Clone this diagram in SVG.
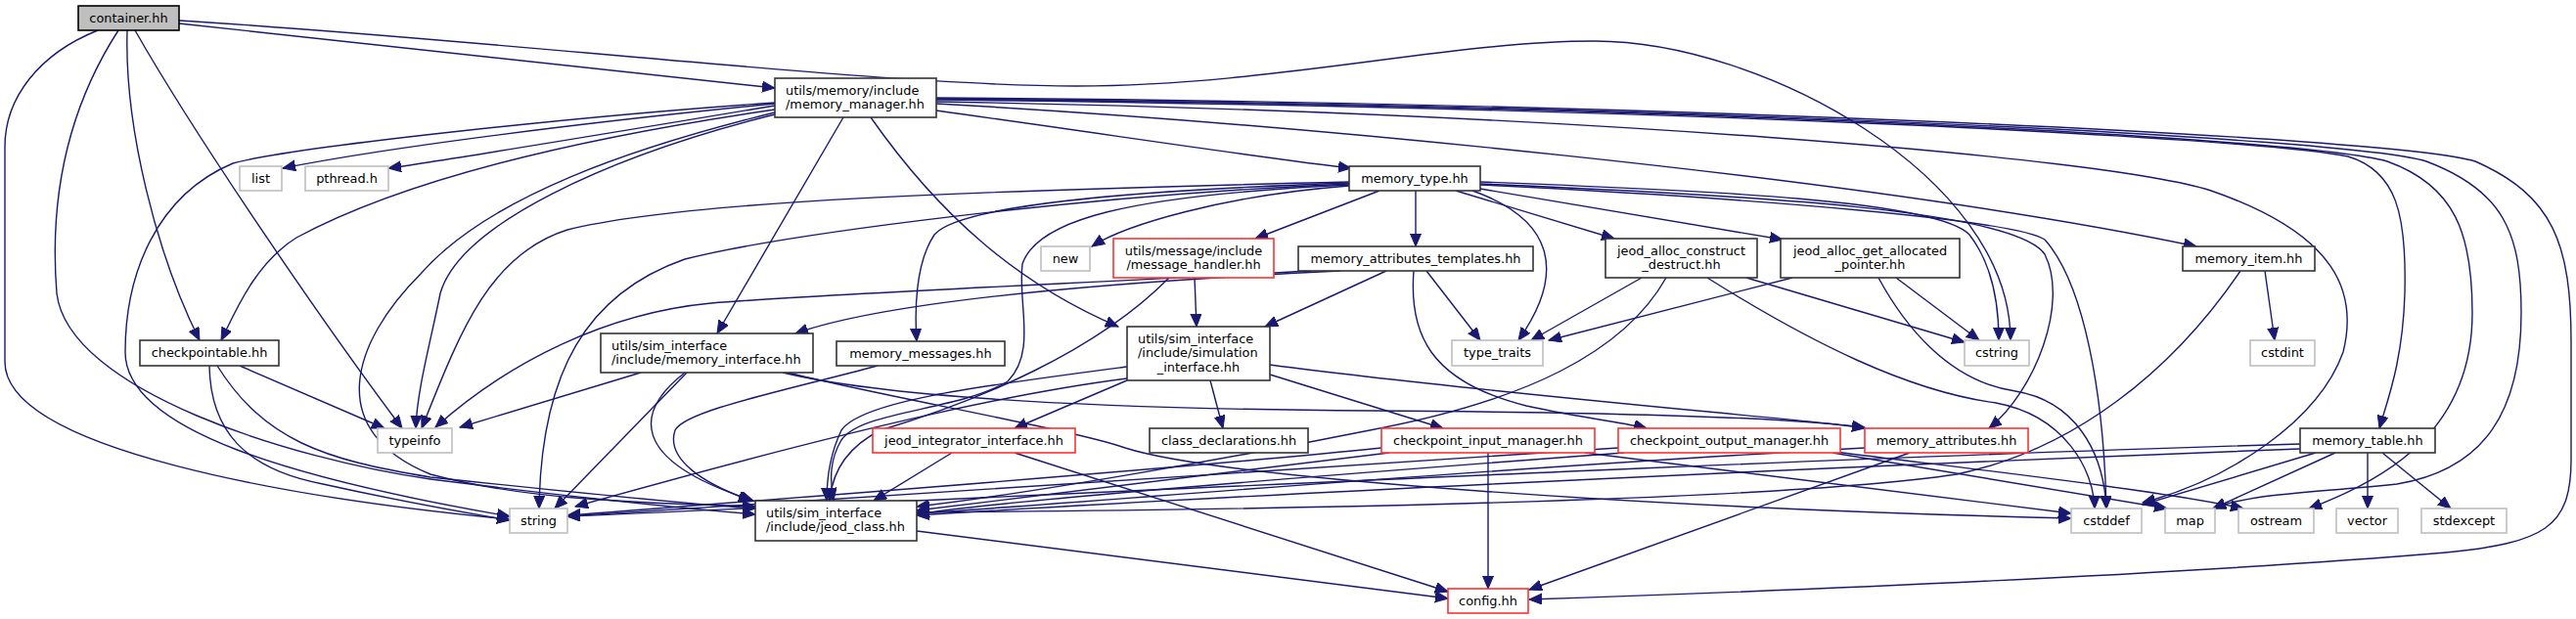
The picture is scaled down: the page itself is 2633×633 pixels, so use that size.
<svg xmlns="http://www.w3.org/2000/svg" width="2633" height="633" viewBox="0 0 2633 633">
<defs>
<marker id="ah" markerUnits="userSpaceOnUse" markerWidth="14" markerHeight="12" refX="13" refY="5.5" orient="auto"><path d="M0,0 L13,5.5 L0,11 z" fill="#191970" stroke="#191970" stroke-width="1"/></marker>
<style>
.e{fill:none;stroke:#191970;stroke-width:1.4;marker-end:url(#ah)}
.n rect{fill:#fff;stroke:#333;stroke-width:1.6}
.g rect{fill:#fff;stroke:#bfbfbf;stroke-width:1.6}
.r rect{fill:#fff;stroke:#ff3030;stroke-width:1.6}
text{font-family:"DejaVu Sans","Liberation Sans",sans-serif;font-size:12.9px;fill:#000}
.c{text-anchor:middle}
</style>
</defs>
<rect width="2633" height="633" fill="#fff"/>
<g id="edges">
<path class="e" d="M183,24 L792,90"/>
<path class="e" d="M183,21 C500,40 900,88 1100,88 C1300,88 1480,42 1630,42 C1800,42 2055,180 2055,348"/>
<path class="e" d="M130,31 C127,130 160,260 204,348"/>
<path class="e" d="M138,31 C200,140 330,330 411,438"/>
<path class="e" d="M100,31 C40,55 5,100 5,150 L5,370 C5,460 300,510 521,531"/>
<path class="e" d="M121,31 C70,110 50,200 58,300 C70,400 300,470 440,490 C600,510 700,520 772,526"/>
<path class="e" d="M792,106 C600,125 400,150 289,172"/>
<path class="e" d="M792,108 C600,140 450,165 397,172"/>
<path class="e" d="M792,112 C600,140 420,180 303,243 C260,270 240,320 226,348"/>
<path class="e" d="M792,105 C600,118 300,150 238,167 C160,200 128,280 128,360 C128,440 300,490 521,528"/>
<path class="e" d="M792,115 C650,150 500,200 430,280 C360,350 330,440 440,485 C550,515 700,515 772,518"/>
<path class="e" d="M792,117 C620,160 470,230 450,300 C440,350 426,400 425,438"/>
<path class="e" d="M862,120 L733,341"/>
<path class="e" d="M890,120 C960,220 1040,290 1143,334"/>
<path class="e" d="M957,113 C1150,140 1300,163 1381,172"/>
<path class="e" d="M957,106 C1300,125 1900,180 2245,252"/>
<path class="e" d="M957,104 C1600,115 2150,160 2260,195 C2390,240 2410,300 2395,360 C2370,430 2280,490 2190,514"/>
<path class="e" d="M957,102 C1700,110 2300,140 2400,160 C2450,175 2460,220 2458,300 C2456,370 2440,410 2432,438"/>
<path class="e" d="M957,101 C1700,108 2350,140 2440,165 C2510,190 2527,240 2527,320 C2527,440 2440,490 2360,520"/>
<path class="e" d="M957,101 C1700,107 2400,140 2480,165 C2560,195 2577,240 2577,320 C2577,420 2540,480 2450,495 C2350,505 2300,505 2262,520"/>
<path class="e" d="M957,100 C1700,105 2450,140 2530,165 C2610,200 2628,250 2628,350 L2628,470 C2628,540 2600,555 2500,565 C2200,590 1800,605 1563,613"/>
<path class="e" d="M1379,186 C1000,195 700,205 580,235 C500,260 470,340 431,438"/>
<path class="e" d="M1379,188 C1100,200 800,240 700,265 C600,300 553,380 551,520"/>
<path class="e" d="M1379,187 C1150,195 980,210 955,240 C935,270 935,320 937,349"/>
<path class="e" d="M1379,189 C1150,200 1060,225 1045,270 C1040,310 1060,360 1030,390 C980,420 880,420 860,450 C848,470 848,490 852,512"/>
<path class="e" d="M1379,190 C1250,200 1150,230 1116,252"/>
<path class="e" d="M1410,195 L1283,244"/>
<path class="e" d="M1447,195 L1447,252"/>
<path class="e" d="M1488,195 L1650,244"/>
<path class="e" d="M1505,195 C1590,225 1600,280 1552,348"/>
<path class="e" d="M1513,193 L1822,245"/>
<path class="e" d="M1513,186 C1750,195 1980,205 2013,240 C2040,275 2043,320 2043,348"/>
<path class="e" d="M1513,188 C1800,200 2060,215 2090,260 C2115,310 2080,400 2033,438"/>
<path class="e" d="M1513,189 C1800,203 2060,225 2090,245 C2130,290 2150,400 2153,520"/>
<path class="e" d="M1221,284 L1223,334"/>
<path class="e" d="M1195,284 C1120,360 1000,410 900,440 C860,460 850,490 848,512"/>
<path class="e" d="M1370,277 C1100,290 900,310 813,341"/>
<path class="e" d="M1340,277 C1100,290 850,300 727,310 C620,320 520,370 445,437"/>
<path class="e" d="M1417,277 L1293,334"/>
<path class="e" d="M1445,277 C1440,340 1460,390 1560,415 C1620,428 1660,432 1683,438"/>
<path class="e" d="M1458,277 L1513,348"/>
<path class="e" d="M1678,284 L1565,348"/>
<path class="e" d="M1703,284 C1660,360 1560,410 1400,440 C1250,470 1050,505 937,518"/>
<path class="e" d="M1785,284 L2008,350"/>
<path class="e" d="M1745,284 C1850,350 1950,400 2040,412 C2110,425 2140,480 2141,520"/>
<path class="e" d="M1832,284 L1583,348"/>
<path class="e" d="M1938,284 L2023,348"/>
<path class="e" d="M1920,284 C1945,330 1990,390 2060,400 C2120,410 2150,460 2153,520"/>
<path class="e" d="M245,374 L393,438"/>
<path class="e" d="M214,374 C215,440 250,480 330,495 C420,515 480,525 521,532"/>
<path class="e" d="M222,374 C270,450 330,470 440,488 C600,505 700,515 772,520"/>
<path class="e" d="M655,381 L470,437"/>
<path class="e" d="M702,381 L567,520"/>
<path class="e" d="M700,381 C650,420 640,470 770,512"/>
<path class="e" d="M800,381 C900,405 1100,418 1400,420 C1700,422 1850,428 1906,438"/>
<path class="e" d="M805,381 C900,405 1100,440 1150,458 C1250,490 1700,520 2117,530"/>
<path class="e" d="M897,374 C800,400 700,420 690,440 C680,470 720,495 768,512"/>
<path class="e" d="M1152,389 L1037,438"/>
<path class="e" d="M1237,389 L1250,438"/>
<path class="e" d="M1298,383 L1475,438"/>
<path class="e" d="M1298,373 C1500,400 1800,425 1906,437"/>
<path class="e" d="M1152,387 C1050,400 900,430 588,518"/>
<path class="e" d="M1152,375 C1000,395 880,410 860,440 C848,465 845,490 845,512"/>
<path class="e" d="M973,463 L893,512"/>
<path class="e" d="M1037,463 L1480,605"/>
<path class="e" d="M937,543 L1480,612"/>
<path class="e" d="M1521,463 L1521,602"/>
<path class="e" d="M1412,458 C1200,480 800,510 580,527"/>
<path class="e" d="M1420,463 C1200,490 1000,515 937,522"/>
<path class="e" d="M1620,463 L2117,525"/>
<path class="e" d="M1654,458 C1300,480 900,510 580,528"/>
<path class="e" d="M1660,463 C1300,490 1000,515 937,526"/>
<path class="e" d="M1873,463 L2215,520"/>
<path class="e" d="M1876,462 C2000,478 2200,500 2293,520"/>
<path class="e" d="M1952,463 L1563,603"/>
<path class="e" d="M1906,458 C1500,480 1100,515 937,525"/>
<path class="e" d="M2351,454 C1800,470 1000,510 580,528"/>
<path class="e" d="M2351,459 C1800,480 1200,510 937,527"/>
<path class="e" d="M2367,463 L2190,516"/>
<path class="e" d="M2387,463 L2262,520"/>
<path class="e" d="M2420,463 L2420,520"/>
<path class="e" d="M2435,463 L2505,520"/>
<path class="e" d="M2315,277 L2325,348"/>
<path class="e" d="M2290,277 C2220,380 2120,460 2000,485 C1800,515 1200,522 937,524"/>
</g>
<g id="node-container" class="n"><rect x="80" y="6" width="103" height="25" style="fill:#bfbfbf;stroke:#000"/><text class="c" x="131.5" y="23">container.hh</text></g>
<g id="node-memory_manager" class="n"><rect x="792" y="80" width="165" height="40"/><text x="803" y="97">utils/memory/include</text><text x="803" y="111">/memory_manager.hh</text></g>
<g id="node-list" class="g"><rect x="245" y="170" width="43" height="25"/><text class="c" x="266.5" y="187">list</text></g>
<g id="node-pthread" class="g"><rect x="312" y="170" width="85" height="25"/><text class="c" x="354.5" y="187">pthread.h</text></g>
<g id="node-memory_type" class="n"><rect x="1379" y="170" width="134" height="25"/><text class="c" x="1446" y="187">memory_type.hh</text></g>
<g id="node-new" class="g"><rect x="1064" y="252" width="50" height="25"/><text class="c" x="1089" y="269">new</text></g>
<g id="node-message_handler" class="r"><rect x="1138" y="244" width="164" height="40"/><text class="c" x="1220" y="261">utils/message/include</text><text class="c" x="1220" y="275">/message_handler.hh</text></g>
<g id="node-memory_attributes_templates" class="n"><rect x="1327" y="252" width="240" height="25"/><text class="c" x="1447" y="269">memory_attributes_templates.hh</text></g>
<g id="node-jeod_alloc_construct_destruct" class="n"><rect x="1641" y="244" width="155" height="40"/><text class="c" x="1718.5" y="261">jeod_alloc_construct</text><text class="c" x="1718.5" y="275">_destruct.hh</text></g>
<g id="node-jeod_alloc_get_allocated_pointer" class="n"><rect x="1820" y="244" width="183" height="40"/><text class="c" x="1911.5" y="261">jeod_alloc_get_allocated</text><text class="c" x="1911.5" y="275">_pointer.hh</text></g>
<g id="node-memory_item" class="n"><rect x="2231" y="252" width="135" height="25"/><text class="c" x="2298.5" y="269">memory_item.hh</text></g>
<g id="node-checkpointable" class="n"><rect x="143" y="348" width="142" height="26"/><text class="c" x="214" y="365">checkpointable.hh</text></g>
<g id="node-memory_messages" class="n"><rect x="855" y="349" width="172" height="25"/><text class="c" x="941" y="366">memory_messages.hh</text></g>
<g id="node-memory_interface" class="n"><rect x="614" y="341" width="217" height="40"/><text x="625" y="358">utils/sim_interface</text><text x="625" y="372">/include/memory_interface.hh</text></g>
<g id="node-simulation_interface" class="n"><rect x="1152" y="334" width="146" height="55"/><text x="1163" y="350.5">utils/sim_interface</text><text x="1163" y="365">/include/simulation</text><text class="c" x="1225" y="379.5">_interface.hh</text></g>
<g id="node-type_traits" class="g"><rect x="1484" y="348" width="93" height="26"/><text class="c" x="1530.5" y="365">type_traits</text></g>
<g id="node-cstring" class="g"><rect x="2008" y="348" width="66" height="26"/><text class="c" x="2041" y="365">cstring</text></g>
<g id="node-cstdint" class="g"><rect x="2300" y="348" width="66" height="26"/><text class="c" x="2333" y="365">cstdint</text></g>
<g id="node-typeinfo" class="g"><rect x="386" y="438" width="76" height="25"/><text class="c" x="424" y="455">typeinfo</text></g>
<g id="node-jeod_integrator_interface" class="r"><rect x="892" y="438" width="207" height="25"/><text class="c" x="995.5" y="455">jeod_integrator_interface.hh</text></g>
<g id="node-class_declarations" class="n"><rect x="1175" y="438" width="162" height="25"/><text class="c" x="1256" y="455">class_declarations.hh</text></g>
<g id="node-checkpoint_input_manager" class="r"><rect x="1412" y="438" width="218" height="25"/><text class="c" x="1521" y="455">checkpoint_input_manager.hh</text></g>
<g id="node-checkpoint_output_manager" class="r"><rect x="1654" y="438" width="227" height="25"/><text class="c" x="1767.5" y="455">checkpoint_output_manager.hh</text></g>
<g id="node-memory_attributes" class="r"><rect x="1906" y="438" width="167" height="25"/><text class="c" x="1989.5" y="455">memory_attributes.hh</text></g>
<g id="node-memory_table" class="n"><rect x="2351" y="438" width="138" height="25"/><text class="c" x="2420" y="455">memory_table.hh</text></g>
<g id="node-string" class="g"><rect x="521" y="520" width="59" height="25"/><text class="c" x="550.5" y="537">string</text></g>
<g id="node-jeod_class" class="n"><rect x="772" y="512" width="165" height="41"/><text x="783" y="529">utils/sim_interface</text><text x="783" y="543">/include/jeod_class.hh</text></g>
<g id="node-cstddef" class="g"><rect x="2117" y="520" width="72" height="25"/><text class="c" x="2153" y="537">cstddef</text></g>
<g id="node-map" class="g"><rect x="2213" y="520" width="51" height="25"/><text class="c" x="2238.5" y="537">map</text></g>
<g id="node-ostream" class="g"><rect x="2288" y="520" width="77" height="25"/><text class="c" x="2326.5" y="537">ostream</text></g>
<g id="node-vector" class="g"><rect x="2388" y="520" width="63" height="25"/><text class="c" x="2419.5" y="537">vector</text></g>
<g id="node-stdexcept" class="g"><rect x="2475" y="520" width="87" height="25"/><text class="c" x="2518.5" y="537">stdexcept</text></g>
<g id="node-config" class="r"><rect x="1480" y="602" width="82" height="25"/><text class="c" x="1521" y="619">config.hh</text></g>
</svg>
